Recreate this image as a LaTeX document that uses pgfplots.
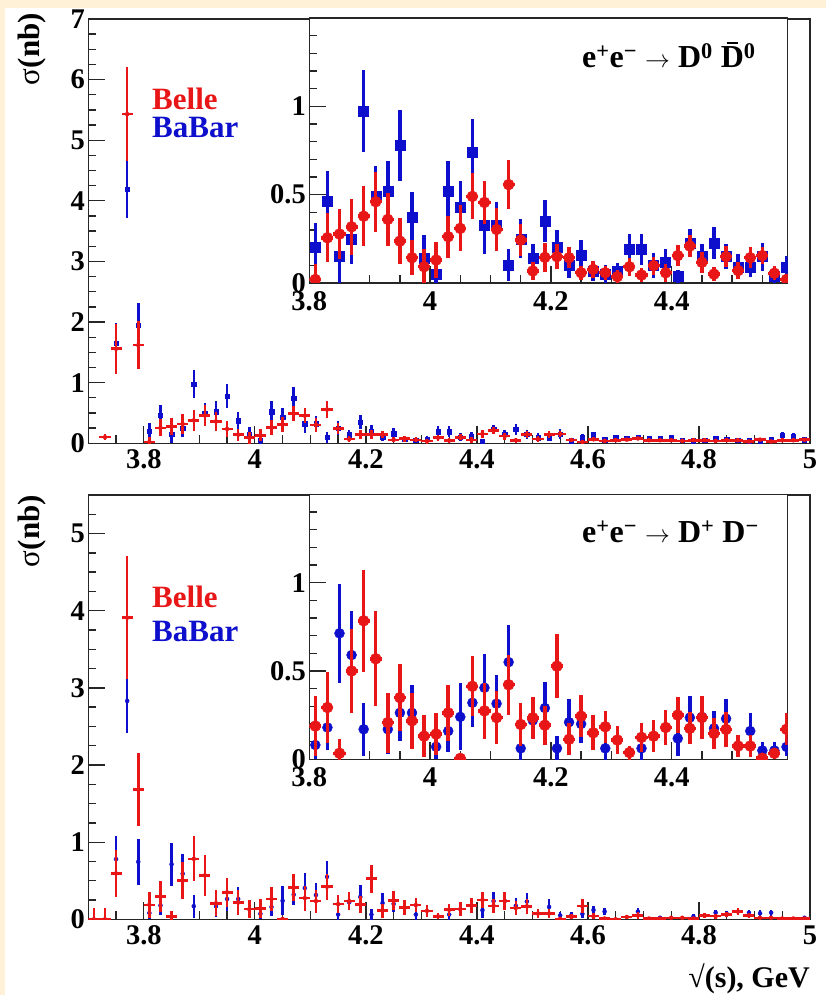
\documentclass[border=0pt]{standalone}
\usepackage{fontspec}
\setmainfont{Liberation Serif}
\usepackage{pgfplots}
\usepackage{pgfplotstable}
\pgfplotsset{compat=1.18}
\definecolor{bred}{RGB}{232,22,22}
\definecolor{bblue}{RGB}{14,14,205}
\definecolor{cream}{RGB}{254,241,216}
\newcommand\tickfont{\fontsize{28.5}{28.5}\selectfont\bfseries}

% ---------- D0 D0bar : Belle ----------
\pgfplotstableread{
x y e
3.73 0.10 0.05
3.75 1.56 0.41
3.77 5.43 0.77
3.79 1.62 0.40
3.81 0.02 0.09
3.83 0.256 0.14
3.85 0.277 0.14
3.87 0.318 0.16
3.89 0.378 0.17
3.91 0.46 0.17
3.93 0.36 0.15
3.95 0.237 0.13
3.97 0.143 0.10
3.99 0.092 0.10
4.01 0.13 0.10
4.03 0.262 0.12
4.05 0.309 0.13
4.07 0.49 0.13
4.09 0.456 0.12
4.11 0.303 0.12
4.13 0.557 0.14
4.15 0.243 0.09
4.17 0.068 0.05
4.19 0.145 0.08
4.21 0.149 0.07
4.23 0.143 0.06
4.25 0.058 0.04
4.27 0.077 0.05
4.29 0.058 0.04
4.31 0.036 0.04
4.33 0.092 0.05
4.35 0.045 0.04
4.37 0.098 0.05
4.39 0.058 0.05
4.41 0.155 0.06
4.43 0.209 0.06
4.45 0.117 0.06
4.47 0.05 0.04
4.49 0.149 0.06
4.51 0.07 0.05
4.53 0.143 0.06
4.55 0.155 0.05
4.57 0.055 0.04
4.59 0.02 0.03
4.61 0.066 0.03
4.63 0.04 0.03
4.65 0.05 0.03
4.67 0.06 0.03
4.69 0.08 0.03
4.71 0.05 0.03
4.73 0.05 0.03
4.75 0.05 0.03
4.77 0.04 0.03
4.79 0.05 0.03
4.81 0.05 0.03
4.83 0.04 0.03
4.85 0.05 0.03
4.87 0.05 0.03
4.89 0.03 0.03
4.91 0.06 0.03
4.93 0.03 0.03
4.95 0.05 0.03
4.97 0.05 0.03
4.99 0.06 0.03
}\topbelle

% ---------- D0 D0bar : BaBar ----------
\pgfplotstableread{
x y e
3.75 1.65 0.33
3.77 4.19 0.47
3.79 1.95 0.36
3.81 0.20 0.14
3.83 0.463 0.17
3.85 0.149 0.15
3.87 0.25 0.14
3.89 0.974 0.23
3.91 0.49 0.17
3.93 0.52 0.17
3.95 0.78 0.20
3.97 0.375 0.14
3.99 0.143 0.13
4.01 0.05 0.10
4.03 0.52 0.17
4.05 0.43 0.15
4.07 0.74 0.19
4.09 0.326 0.16
4.11 0.326 0.13
4.13 0.10 0.09
4.15 0.25 0.11
4.17 0.14 0.08
4.19 0.35 0.12
4.21 0.20 0.10
4.23 0.10 0.07
4.25 0.155 0.09
4.27 0.064 0.05
4.29 0.05 0.05
4.31 0.064 0.05
4.33 0.19 0.09
4.35 0.19 0.09
4.37 0.10 0.07
4.39 0.12 0.07
4.41 0.036 0.04
4.43 0.228 0.08
4.45 0.149 0.07
4.47 0.228 0.09
4.49 0.149 0.07
4.51 0.092 0.07
4.53 0.092 0.06
4.55 0.149 0.08
4.57 0.04 0.04
4.59 0.09 0.06
4.61 0.14 0.05
4.63 0.06 0.04
4.65 0.09 0.04
4.67 0.08 0.04
4.69 0.10 0.04
4.71 0.08 0.04
4.73 0.08 0.04
4.75 0.09 0.04
4.77 0.05 0.03
4.79 0.04 0.03
4.81 0.05 0.03
4.83 0.08 0.04
4.85 0.07 0.04
4.87 0.055 0.03
4.89 0.04 0.03
4.91 0.04 0.03
4.93 0.06 0.03
4.95 0.137 0.05
4.97 0.12 0.05
4.99 0.06 0.03
}\topbabar

% ---------- D+ D- : Belle ----------
\pgfplotstableread{
x y e
3.71 0.0 0.14
3.73 0.0 0.14
3.75 0.595 0.30
3.77 3.91 0.80
3.79 1.68 0.47
3.81 0.188 0.17
3.83 0.293 0.20
3.85 0.034 0.08
3.87 0.50 0.24
3.89 0.784 0.29
3.91 0.569 0.27
3.93 0.208 0.17
3.95 0.349 0.19
3.97 0.218 0.16
3.99 0.131 0.12
4.01 0.143 0.12
4.03 0.263 0.16
4.05 0.005 0.02
4.07 0.413 0.17
4.09 0.274 0.16
4.11 0.236 0.15
4.13 0.422 0.17
4.15 0.197 0.12
4.17 0.235 0.12
4.19 0.193 0.11
4.21 0.527 0.18
4.23 0.113 0.09
4.25 0.244 0.12
4.27 0.15 0.10
4.29 0.184 0.09
4.31 0.109 0.08
4.33 0.038 0.04
4.35 0.124 0.08
4.37 0.131 0.09
4.39 0.18 0.10
4.41 0.25 0.10
4.43 0.175 0.09
4.45 0.236 0.12
4.47 0.146 0.09
4.49 0.169 0.10
4.51 0.075 0.06
4.53 0.075 0.06
4.55 0.006 0.02
4.57 0.034 0.03
4.59 0.17 0.09
4.61 0.04 0.04
4.63 0.01 0.02
4.65 0.0 0.02
4.67 0.03 0.03
4.69 0.05 0.04
4.71 0.01 0.02
4.73 0.01 0.02
4.75 0.02 0.02
4.77 0.02 0.02
4.79 0.01 0.02
4.81 0.05 0.03
4.83 0.04 0.03
4.85 0.065 0.03
4.87 0.10 0.04
4.89 0.05 0.03
4.91 0.02 0.02
4.93 0.02 0.02
4.95 0.01 0.02
4.97 0.01 0.02
4.99 0.01 0.02
}\botbelle

% ---------- D+ D- : BaBar ----------
\pgfplotstableread{
x y e
3.75 0.78 0.30
3.77 2.83 0.42
3.79 0.745 0.30
3.81 0.081 0.08
3.83 0.18 0.13
3.85 0.713 0.28
3.87 0.59 0.25
3.89 0.17 0.15
3.93 0.17 0.14
3.95 0.263 0.16
3.97 0.263 0.16
4.01 0.071 0.07
4.03 0.16 0.12
4.05 0.24 0.19
4.07 0.32 0.14
4.09 0.405 0.19
4.11 0.315 0.16
4.13 0.55 0.21
4.15 0.062 0.07
4.17 0.22 0.10
4.19 0.29 0.15
4.21 0.062 0.07
4.23 0.21 0.13
4.25 0.20 0.11
4.29 0.062 0.07
4.35 0.062 0.07
4.41 0.118 0.10
4.43 0.236 0.12
4.45 0.24 0.12
4.47 0.175 0.10
4.49 0.23 0.11
4.53 0.16 0.10
4.55 0.05 0.05
4.57 0.05 0.05
4.59 0.07 0.05
4.61 0.12 0.05
4.63 0.10 0.05
4.69 0.10 0.05
4.73 0.02 0.02
4.79 0.035 0.03
4.83 0.086 0.04
4.85 0.07 0.04
4.89 0.086 0.04
4.91 0.078 0.04
4.93 0.086 0.04
4.99 0.02 0.02
}\botbabar

\pgfplotsset{
  rootax/.style={
    scale only axis, anchor=south west,
    axis line style={line width=1.3pt,black!85},
    tick style={line width=1.3pt,black!85},
    major tick length=17pt, minor tick length=8pt,
    xtick pos=left, ytick pos=left, tick align=inside,
    tick label style={font=\tickfont},
    /pgf/number format/assume math mode=true,
    clip marker paths=true,
  },
  mainax/.style={
    width=721.7pt, height=424.3pt,
    xmin=3.7, xmax=5, ymin=0,
    xtick={3.8,4,4.2,4.4,4.6,4.8,5},
    minor xtick={3.75,3.85,3.9,3.95,4.05,4.1,4.15,4.25,4.3,4.35,4.45,4.5,4.55,4.65,4.7,4.75,4.85,4.9,4.95},
    xticklabel style={yshift=-3pt},
  },
  insetax/.style={
    width=478.4pt, height=265pt,
    xmin=3.8, xmax=4.592, ymin=0, ymax=1.5,
    xtick={3.8,4,4.2,4.4},
    minor xtick={3.85,3.9,3.95,4.05,4.1,4.15,4.25,4.3,4.35,4.45,4.5,4.55},
    ytick={0,0.5,1},
    minor ytick={0.1,0.2,0.3,0.4,0.6,0.7,0.8,0.9,1.1,1.2,1.3,1.4},
    xticklabel style={yshift=-5pt},
    axis background/.style={fill=white},
  },
  redM/.style={only marks, mark=*, mark size=2pt, color=bred,
    error bars/.cd, x dir=both, x fixed=0.01, y dir=both, y explicit,
    error mark=none, error bar style={line width=2.5pt,bred}},
  redI/.style={only marks, mark=*, mark size=5.5pt, color=bred,
    error bars/.cd, x dir=both, x fixed=0.01, y dir=both, y explicit,
    error mark=none, error bar style={line width=3.5pt,bred}},
  bluesqM/.style={only marks, mark=square*, mark size=2.2pt, color=bblue,
    error bars/.cd, y dir=both, y explicit,
    error mark=none, error bar style={line width=2.5pt,bblue}},
  bluesqI/.style={only marks, mark=square*, mark size=5pt, color=bblue,
    error bars/.cd, y dir=both, y explicit,
    error mark=none, error bar style={line width=3.5pt,bblue}},
  bluecM/.style={only marks, mark=*, mark size=2pt, color=bblue,
    error bars/.cd, y dir=both, y explicit,
    error mark=none, error bar style={line width=2.5pt,bblue}},
  bluecI/.style={only marks, mark=*, mark size=5pt, color=bblue,
    error bars/.cd, y dir=both, y explicit,
    error mark=none, error bar style={line width=3.5pt,bblue}},
}

\begin{document}
\begin{tikzpicture}
\useasboundingbox (0pt,0pt) rectangle (826pt,995pt);
\fill[cream] (0pt,0pt) rectangle (826pt,995pt);
\fill[white] (5pt,0pt) rectangle (826pt,987pt);

% ===== top panel: main =====
\begin{axis}[rootax, mainax, at={(88.3pt,551.7pt)}, ymax=7,
  ytick={0,1,2,3,4,5,6,7}, minor y tick num=3]
\addplot[bluesqM] table[x=x,y=y,y error=e] {\topbabar};
\addplot[redM] table[x=x,y=y,y error=e] {\topbelle};
\end{axis}
% ===== top panel: inset =====
\begin{axis}[rootax, insetax, at={(309.3pt,712pt)}]
\addplot[bluesqI] table[x=x,y=y,y error=e] {\topbabar};
\addplot[redI] table[x=x,y=y,y error=e] {\topbelle};
\end{axis}

% ===== bottom panel: main =====
\begin{axis}[rootax, mainax, at={(88.3pt,75.7pt)}, ymax=5.5,
  ytick={0,1,2,3,4,5},
  minor ytick={0.25,0.5,0.75,1.25,1.5,1.75,2.25,2.5,2.75,3.25,3.5,3.75,4.25,4.5,4.75,5.25}]
\addplot[bluecM] table[x=x,y=y,y error=e] {\botbabar};
\addplot[redM] table[x=x,y=y,y error=e] {\botbelle};
\end{axis}
% ===== bottom panel: inset =====
\begin{axis}[rootax, insetax, at={(309.3pt,235.7pt)}]
\addplot[bluecI] table[x=x,y=y,y error=e] {\botbabar};
\addplot[redI] table[x=x,y=y,y error=e] {\botbelle};
\end{axis}

% ===== texts =====
\node[anchor=base west, inner sep=0pt, text=bred, font=\fontsize{31}{31}\selectfont\bfseries] at (152pt,885pt) {Belle};
\node[anchor=base west, inner sep=0pt, text=bblue, font=\fontsize{31}{31}\selectfont\bfseries] at (152pt,857pt) {BaBar};
\node[anchor=base west, inner sep=0pt, text=bred, font=\fontsize{31}{31}\selectfont\bfseries] at (152pt,387pt) {Belle};
\node[anchor=base west, inner sep=0pt, text=bblue, font=\fontsize{31}{31}\selectfont\bfseries] at (152pt,353pt) {BaBar};

\node[anchor=base west, inner sep=0pt, font=\fontsize{32}{32}\selectfont\bfseries] at (582pt,927pt)
  {e\textsuperscript{+}e\textsuperscript{−} $\rightarrow$ D\textsuperscript{0} \makebox[0pt][l]{\hspace{0.18em}\rule[0.76em]{0.36em}{0.06em}}D\textsuperscript{0}};
\node[anchor=base west, inner sep=0pt, font=\fontsize{32}{32}\selectfont\bfseries] at (582pt,452pt)
  {e\textsuperscript{+}e\textsuperscript{−} $\rightarrow$ D\textsuperscript{+} D\textsuperscript{−}};

\node[anchor=base east, rotate=90, inner sep=0pt, font=\fontsize{31}{31}\selectfont] at (39pt,982pt) {σ\textbf{(nb)}};
\node[anchor=base east, rotate=90, inner sep=0pt, font=\fontsize{31}{31}\selectfont] at (39pt,500pt) {σ\textbf{(nb)}};

\node[anchor=base east, inner sep=0pt, font=\fontsize{30}{30}\selectfont\bfseries] at (810pt,8pt) {√(s), GeV};
\end{tikzpicture}
\end{document}
